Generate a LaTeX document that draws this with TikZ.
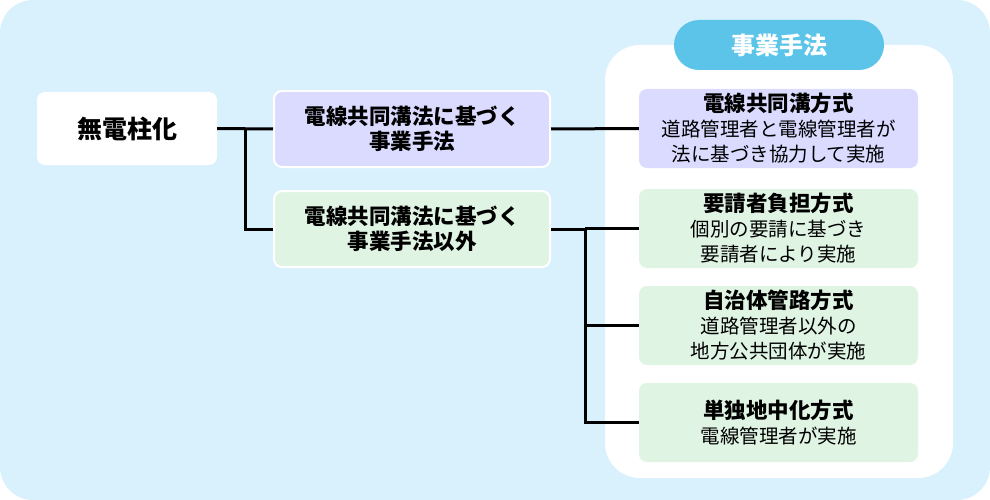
\documentclass[tikz,border=0pt]{standalone}
\usepackage{fontspec}
\setmainfont{Noto Sans CJK JP}
\usepackage{tikz}
\usetikzlibrary{backgrounds}
\definecolor{skybg}{RGB}{217,241,253}
\definecolor{lavbox}{RGB}{218,219,255}
\definecolor{mintbox}{RGB}{224,244,228}
\definecolor{pillblue}{RGB}{91,196,232}

\begin{document}
\begin{tikzpicture}[x=1pt,y=-1pt,
box/.style={rounded corners=8pt, align=center, inner sep=0pt, text=black},
lbox/.style={box, minimum width=276pt, minimum height=76pt, draw=white, line width=2pt,
    font=\fontsize{21.5}{25}\selectfont\bfseries},
rbox/.style={box, minimum width=279pt, minimum height=79pt, font=\fontsize{19.5}{25}\selectfont},
link/.style={line width=3pt, black}]
% background and panel
\fill[skybg, rounded corners=33pt] (0,0) rectangle (990,500);
\fill[white, rounded corners=35pt] (605,45) rectangle (953,478);
\node[fill=pillblue, rounded corners=25pt, minimum width=210pt, minimum height=50pt, inner sep=0pt,
  text=white, font=\fontsize{24}{25}\selectfont\bfseries] (pill) at (779,45) {事業手法};

\node[box, fill=white, minimum width=180pt, minimum height=73pt,
  font=\fontsize{25}{25}\selectfont\bfseries] (root) at (127,128.5) {無電柱化};
\node[lbox, fill=lavbox] (kyodo) at (412,129) {電線共同溝法に基づく\\事業手法};
\node[lbox, fill=mintbox] (other) at (412,229) {電線共同溝法に基づく\\事業手法以外};

\node[rbox, fill=lavbox] (m1) at (778.5,128.5) {\textbf{\fontsize{21.5}{25}\selectfont 電線共同溝方式}\\道路管理者と電線管理者が\\法に基づき協力して実施};
\node[rbox, fill=mintbox] (m2) at (778.5,228.5) {\textbf{\fontsize{21.5}{25}\selectfont 要請者負担方式}\\個別の要請に基づき\\要請者により実施};
\node[rbox, fill=mintbox] (m3) at (778.5,325.5) {\textbf{\fontsize{21.5}{25}\selectfont 自治体管路方式}\\道路管理者以外の\\地方公共団体が実施};
\node[rbox, fill=mintbox] (m4) at (778.5,422.5) {\textbf{\fontsize{21.5}{25}\selectfont 単独地中化方式}\\電線管理者が実施};

% connectors
\draw[link] (root.east) -- (kyodo.west);
\draw[link] (245,128.5) |- (other.west);
\draw[link] (kyodo.east) -- (m1.west);
\draw[link] (other.east) -| (585,422.5) -- (m4.west);
\draw[link] (585,228.5) -- (m2.west);
\draw[link] (585,325.5) -- (m3.west);
\end{tikzpicture}
\end{document}
